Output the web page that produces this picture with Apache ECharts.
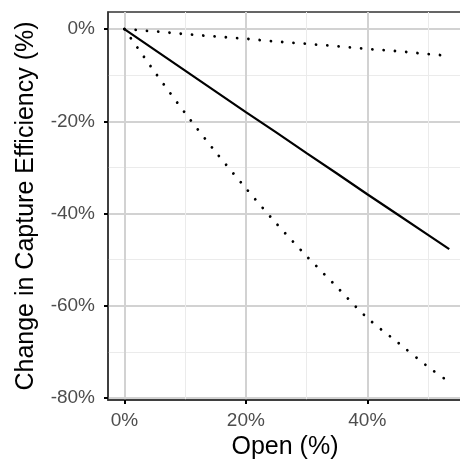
<!DOCTYPE html>
<html><head><meta charset="utf-8">
<script src="https://cdn.jsdelivr.net/npm/echarts@6/dist/echarts.min.js"></script>
<style>html,body{margin:0;padding:0;background:#fff}#c{width:460px;height:464px}</style>
</head><body><div id="c"></div>
<script>
const openPct = [0, 5, 10, 15, 20, 25, 30, 35, 40, 45, 50, 53.5];
const solidLine = [0, -4.5, -9, -13.5, -18, -22.4, -26.9, -31.3, -35.8, -40.2, -44.6, -47.7];
const upperDotted = [0, -0.5, -1.1, -1.6, -2.1, -2.7, -3.2, -3.7, -4.3, -4.8, -5.4, -5.8];
const lowerDotted = [0, -9.3, -18.2, -26.6, -34.5, -42.1, -49.2, -55.9, -62.6, -67.9, -73.2, -76.5];
const xMajor = [0, 20, 40];
const xMinor = [10, 30, 50];
const yMajor = [0, -20, -40, -60, -80];
const yMinor = [-10, -30, -50, -70];
const xRange = [-2.7, 55.6];
const yRange = [-80.4, 3.7];

const pairs = ys => openPct.map((x, i) => [x, ys[i]]);
const FONT = 'Liberation Sans, Arial, sans-serif';
const chart = echarts.init(document.getElementById('c'), null, {renderer: 'canvas'});

const baseX = {type: 'value', min: xRange[0], max: xRange[1], gridIndex: 0, position: 'bottom'};
const baseY = {type: 'value', min: yRange[0], max: yRange[1], gridIndex: 0, position: 'left'};
chart.setOption({
  animation: false,
  backgroundColor: '#fff',
  grid: {left: 108, right: -2, top: 12, bottom: 64, show: true, borderColor: '#333', borderWidth: 1.5,
    backgroundColor: 'transparent', containLabel: false, outerBoundsMode: 'none'},
  xAxis: [
    Object.assign({}, baseX, {
      axisLine: {show: false}, axisLabel: {show: false},
      axisTick: {show: false, customValues: xMinor},
      splitLine: {show: true, lineStyle: {color: '#ebebeb', width: 1}}
    }),
    Object.assign({}, baseX, {
      name: 'Open (%)', nameLocation: 'middle', nameGap: 35,
      nameTextStyle: {fontFamily: FONT, fontSize: 25, color: '#000'},
      axisLine: {show: true, onZero: false, lineStyle: {color: '#333', width: 1.5}},
      axisTick: {show: true, length: 4, customValues: xMajor, lineStyle: {color: '#000', width: 2}},
      axisLabel: {show: true, customValues: xMajor, formatter: v => v + '%', margin: 11,
        fontFamily: FONT, fontSize: 19, color: '#4d4d4d'},
      splitLine: {show: true, lineStyle: {color: '#d2d2d2', width: 2}}
    })
  ],
  yAxis: [
    Object.assign({}, baseY, {
      axisLine: {show: false}, axisLabel: {show: false},
      axisTick: {show: false, customValues: yMinor},
      splitLine: {show: true, lineStyle: {color: '#ebebeb', width: 1}}
    }),
    Object.assign({}, baseY, {
      name: 'Change in Capture Efficiency (%)', nameLocation: 'middle', nameGap: 69,
      nameTextStyle: {fontFamily: FONT, fontSize: 25, color: '#000'},
      axisLine: {show: true, onZero: false, lineStyle: {color: '#333', width: 1.5}},
      axisTick: {show: true, length: 4, customValues: yMajor, lineStyle: {color: '#000', width: 2}},
      axisLabel: {show: true, customValues: yMajor, formatter: v => v + '%', margin: 13,
        fontFamily: FONT, fontSize: 19, color: '#4d4d4d'},
      splitLine: {show: true, lineStyle: {color: '#d2d2d2', width: 2}}
    })
  ],
  series: [
    {type: 'line', xAxisIndex: 1, yAxisIndex: 1, data: pairs(solidLine), showSymbol: false, symbol: 'none',
      lineStyle: {color: '#000', width: 2.2}},
    {type: 'line', xAxisIndex: 1, yAxisIndex: 1, data: pairs(upperDotted), showSymbol: false, symbol: 'none',
      lineStyle: {color: '#000', width: 2.8, type: [0.01, 11.3], cap: 'round'}},
    {type: 'line', xAxisIndex: 1, yAxisIndex: 1, data: pairs(lowerDotted), showSymbol: false, symbol: 'none', smooth: 0.3,
      lineStyle: {color: '#000', width: 2.8, type: [0.01, 11.3], cap: 'round'}}
  ]
});
</script></body></html>
